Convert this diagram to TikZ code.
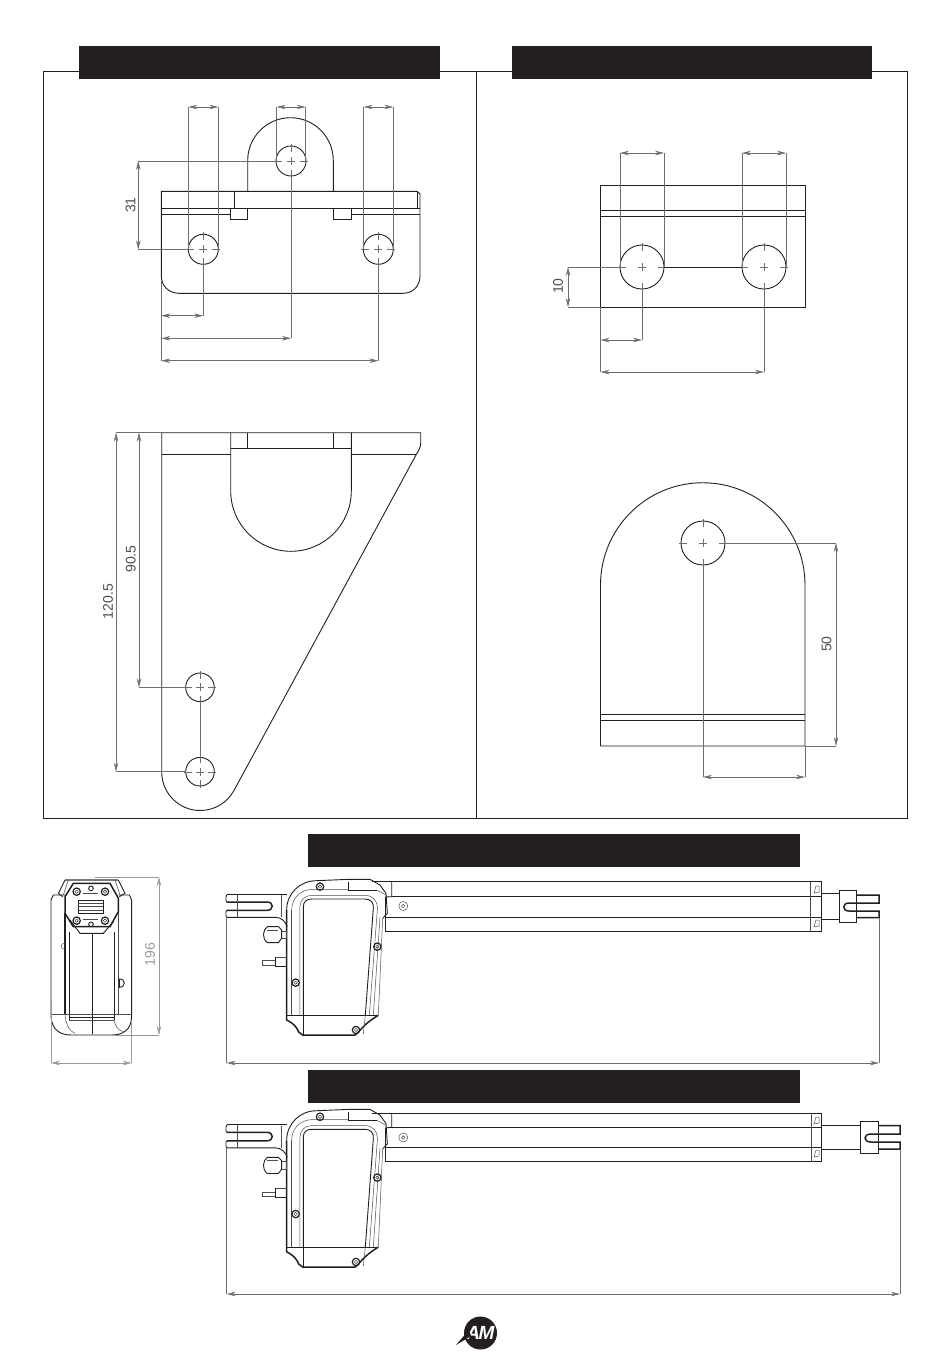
\documentclass[tikz,border=0pt]{standalone}
\usepackage{fontspec}
\setmainfont{Liberation Sans}
\usetikzlibrary{arrows.meta}
\tikzset{>={Stealth[length=9pt,width=4.5pt]}}
\definecolor{inkblack}{HTML}{231F20}
\definecolor{dimgray}{HTML}{6E6E6E}
% hole: x, y, radius
\newcommand{\holemark}[3]{
  \draw[outline] (#1,#2) circle (#3);
  \draw[mark_line] (#1-4,#2) -- (#1+4,#2);
  \draw[mark_line] (#1,#2-4) -- (#1,#2+4);
  \draw[mark_line] (#1-#3-2,#2) -- (#1-#3+6,#2);
  \draw[mark_line] (#1+#3-6,#2) -- (#1+#3+2,#2);
  \draw[mark_line] (#1,#2-#3-2) -- (#1,#2-#3+6);
  \draw[mark_line] (#1,#2+#3-6) -- (#1,#2+#3+2);
}
\newcommand{\screwmark}[2]{
  \draw[line width=1.2pt, inkblack] (#1,#2) circle (11);
  \draw[thin, inkblack] (#1,#2) circle (5);
}
% side view of the casing, in units of a third of a pixel
\newcommand{\actuatorbody}{
  \draw[outline] (591,194) -- (772,194);
  \draw[heavy] (591,216) -- (711,216) .. controls (732,216) and (732,241) .. (711,241) -- (591,241);
  \draw[outline] (591,194) -- (588,200) -- (588,212) -- (591,216);
  \draw[outline] (591,241) -- (588,245) -- (588,258) -- (591,262) -- (736,262) .. controls (755,262) and (766,275) .. (772,290);
  \draw[thin_part] (622,194) -- (622,262);
  \draw[thin_part] (755,196) -- (755,262);
  \draw[outline] (770,240) .. controls (770,190) and (810,152) .. (860,152) -- (955,148) -- (1020,148) -- (1050,165) -- (1068,190) -- (1072,250) -- (1058,265);
  \draw[heavy] (770,240) -- (770,570) .. controls (790,580) and (800,590) .. (806,606) -- (818,615) -- (975,615) .. controls (985,612) and (995,585) .. (1045,556);
  \draw[thin_part] (1058,265) -- (1045,556);
  \draw[thin_part] (1050,262) -- (1030,556);
  \draw[thin_part] (785,240) .. controls (785,205) and (810,178) .. (850,178) -- (955,178);
  \draw[thin_part] (785,240) -- (785,556);
  \draw[outline] (820,555) -- (820,230) .. controls (820,215) and (830,207) .. (845,207) -- (1005,207) .. controls (1022,207) and (1032,218) .. (1030,235) -- (1006,555);
  \draw[thin_part] (810,556) -- (810,230) .. controls (810,210) and (825,196) .. (845,196) -- (1005,196) .. controls (1030,196) and (1044,215) .. (1042,240) -- (1018,556);
  \draw[outline] (770,556) -- (1045,556);
  \draw[outline] (820,555) -- (820,615);
  \draw[thin_part] (1006,555) -- (1000,612);
  \draw[outline] (955,155) -- (955,180) -- (1040,180);
  \draw[thin_part] (1040,180) -- (1068,195);
  \screwmark{870}{170}
  \screwmark{1042}{350}
  \screwmark{797}{458}
  \screwmark{978}{600}
  % key and cable gland
  \draw[outline] (745,290) -- (712,290) .. controls (698,300) and (695,325) .. (712,338) -- (745,338) -- (755,325) -- (755,300) -- cycle;
  \draw[thin_part] (712,300) -- (745,300);
  \draw[thin_part] (755,303) -- (770,303) -- (770,325) -- (755,325);
  \draw[thin_part] (697,392) rectangle (737,405);
  \draw[outline] (737,382) -- (737,410) -- (770,410);
  \draw[thin_part] (737,382) -- (770,382);
}
\begin{document}
\begin{tikzpicture}[
    x = 1pt,
    y = -1pt,
    outline/.style = {line width = 0.9pt, inkblack},
    heavy/.style = {line width = 1.5pt, inkblack},
    thin_part/.style = {line width = 0.5pt, inkblack!80},
    dim/.style = {<->, line width = 0.6pt, dimgray},
    dim_light/.style = {<->, line width = 0.5pt, dimgray!70},
    ext/.style = {line width = 0.6pt, dimgray},
    ext_light/.style = {line width = 0.5pt, dimgray!70},
    mark_line/.style = {line width = 0.4pt, dimgray},
    header/.style = {fill = inkblack, inner sep = 0pt, minimum height = 33pt},
    size_label/.style = {rotate = 90, font = \fontsize{14}{14}\selectfont, text = inkblack!80, inner sep = 0pt}
  ]
    \useasboundingbox (0,0) rectangle (950,1357);

    % frames and title bars
    \draw[outline] (43,71) rectangle (907.5,818);
    \draw[outline] (476,71) -- (476,818);
    \node[header, minimum width = 361pt] (header_bracket) at (259.5,62.5) {};
    \node[header, minimum width = 360pt] (header_plate) at (692,62.5) {};
    \node[header, minimum width = 492pt] (header_short) at (554,850.5) {};
    \node[header, minimum width = 492pt] (header_long) at (554,1086.5) {};

    % bracket, top view
    \draw[outline] (161.3,191.3) -- (161.3,276) .. controls (161.3,287) and (170,293.3) .. (179,293.3) -- (403,293.3) .. controls (412,293.3) and (420,287) .. (420,276) -- (420,194) -- (417,191.3) -- cycle;
    \draw[outline] (247.7,191.3) -- (247.7,160.5) arc[start angle = 180, end angle = 360, radius = 42.8] -- (333.3,191.3);
    \draw[outline] (161.3,208.3) -- (420,208.3);
    \draw[outline] (234.3,191.3) -- (234.3,208.3);
    \draw[outline] (417.3,191.3) -- (417.3,208.3);
    \draw[outline] (161.3,214.3) -- (230.3,214.3);
    \draw[outline] (351.7,214.3) -- (420,214.3);
    \draw[outline] (230.3,208.3) rectangle (247.7,219.3);
    \draw[outline] (333.3,208.3) rectangle (351.7,219.3);
    \holemark{291}{161}{15}
    \holemark{203.3}{249.3}{15}
    \holemark{378.3}{249.3}{15}
    \draw[ext] (188.3,107) -- (188.3,249.3);
    \draw[ext] (218.3,107) -- (218.3,249.3);
    \draw[ext] (276.7,107) -- (276.7,161);
    \draw[ext] (305.7,107) -- (305.7,161);
    \draw[ext] (363.7,107) -- (363.7,249.3);
    \draw[ext] (393.3,107) -- (393.3,249.3);
    \draw[dim] (188.3,107) -- (218.3,107);
    \draw[dim] (276.7,107) -- (305.7,107);
    \draw[dim] (363.7,107) -- (393.3,107);
    \draw[ext] (138.3,161) -- (276,161);
    \draw[ext] (138.3,249.3) -- (188.3,249.3);
    \draw[dim] (138.3,161) -- (138.3,249.3);
    \node[size_label] (label_31) at (130.5,205) {31};
    \draw[ext] (161.3,280) -- (161.3,360.7);
    \draw[ext] (203.3,264.3) -- (203.3,315.7);
    \draw[ext] (291,176) -- (291,338.3);
    \draw[ext] (378.3,264.3) -- (378.3,360.7);
    \draw[dim] (161.3,315.7) -- (203.3,315.7);
    \draw[dim] (161.3,338.3) -- (291,338.3);
    \draw[dim] (161.3,360.7) -- (378.3,360.7);

    % bracket, side view
    \draw[outline] (161.7,432.7) -- (161.7,772) arc[start angle = 180, end angle = 29, radius = 38.5] -- (416,455) .. controls (419,450) and (420.7,447) .. (420.7,443) -- (420.7,432.7) -- cycle;
    \draw[outline] (161.7,454.3) -- (230.7,454.3);
    \draw[outline] (351.3,454.3) -- (416,454.3);
    \draw[outline] (230.7,432.7) -- (230.7,491) arc[start angle = 180, end angle = 0, radius = 60.3] -- (351.3,432.7);
    \draw[outline] (230.7,448.3) -- (351.3,448.3);
    \draw[outline] (247.3,432.7) -- (247.3,448.3);
    \draw[outline] (333.3,432.7) -- (333.3,448.3);
    \holemark{200}{687.3}{14.3}
    \holemark{200}{771.7}{14.3}
    \draw[ext] (200,701.6) -- (200,757.4);
    \draw[ext] (116,432.7) -- (161.7,432.7);
    \draw[ext] (139,687.3) -- (185.7,687.3);
    \draw[ext] (116,771.7) -- (185.7,771.7);
    \draw[dim] (139,432.7) -- (139,687.3);
    \draw[dim] (116,432.7) -- (116,771.7);
    \node[size_label] (label_90) at (130.7,559) {90.5};
    \node[size_label] (label_120) at (108,601.7) {120.5};

    % plate, top view
    \draw[outline] (600.5,185) rectangle (805,307);
    \draw[outline] (600.5,210) -- (805,210);
    \draw[outline] (600.5,216) -- (805,216);
    \holemark{642}{267}{22}
    \holemark{764}{267}{22}
    \draw[outline] (664,267) -- (742,267);
    \draw[ext] (620,153) -- (620,267);
    \draw[ext] (664,153) -- (664,267);
    \draw[ext] (742,153) -- (742,267);
    \draw[ext] (786,153) -- (786,267);
    \draw[dim] (620,153) -- (664,153);
    \draw[dim] (742,153) -- (786,153);
    \draw[ext] (568,267) -- (620,267);
    \draw[ext] (568,307) -- (600.5,307);
    \draw[dim] (568,267) -- (568,307);
    \node[size_label] (label_10) at (558,286) {10};
    \draw[ext] (600.5,307) -- (600.5,372);
    \draw[ext] (642,289) -- (642,340);
    \draw[ext] (764,289) -- (764,372);
    \draw[dim] (600.5,340) -- (642,340);
    \draw[dim] (600.5,372) -- (764,372);

    % plate, front view
    \draw[outline] (600.5,746) -- (600.5,585) arc[start angle = 180, end angle = 360, radius = 102.25] -- (805,746) -- cycle;
    \draw[outline] (600.5,714) -- (805,714);
    \draw[outline] (600.5,720) -- (805,720);
    \holemark{703}{543}{22}
    \draw[ext] (725,543) -- (836,543);
    \draw[ext] (805,746) -- (836,746);
    \draw[dim] (836,543) -- (836,746);
    \node[size_label] (label_50) at (826.5,644) {50};
    \draw[ext] (703,565) -- (703,777);
    \draw[ext] (805,746) -- (805,777);
    \draw[dim] (703,777) -- (805,777);

    % actuator, front view
    \begin{scope}[shift = {(30,830)}, scale = 1/3]
      \draw[outline] (105,195) -- (70,195) -- (63,210) -- (63,560) .. controls (66,600) and (90,615) .. (125,615) -- (245,615) .. controls (280,615) and (303,600) .. (305,560) -- (305,210) -- (298,195) -- (265,195);
      \draw[heavy] (105,250) -- (105,555);
      \draw[outline] (117,305) -- (117,570);
      \draw[outline] (252,305) -- (252,570);
      \draw[thin_part] (265,250) -- (265,555);
      \draw[outline] (187,310) -- (187,612);
      \draw[thin_part] (63,552) -- (305,552);
      \draw[outline] (117,562) -- (252,562);
      \draw[thin_part] (105,555) .. controls (108,585) and (120,605) .. (135,610);
      \draw[thin_part] (117,570) -- (252,570) ;
      \draw[thin_part] (252,560) .. controls (252,585) and (262,600) .. (280,605);
      \draw[heavy] (130,160) -- (240,160) -- (265,205) -- (265,245) -- (240,290) -- (130,290) -- (105,250) -- (105,200) -- cycle;
      \draw[outline] (120,270) -- (150,310) -- (220,310) -- (250,275);
      \draw[line width = 1.3pt, inkblack!60] (105,150) -- (265,150);
      \draw[outline] (105,150) -- (85,190) -- (98,200);
      \draw[outline] (265,150) -- (285,190) -- (268,200);
      \draw[thin_part] (115,150) -- (100,195);
      \draw[thin_part] (255,150) -- (270,195);
      \draw[outline] (145,210) rectangle (220,250);
      \draw[thin_part] (145,220) -- (220,220);
      \draw[thin_part] (145,230) -- (220,230);
      \draw[thin_part] (145,240) -- (220,240);
      \screwmark{140}{185}
      \screwmark{225}{185}
      \screwmark{140}{272}
      \screwmark{225}{272}
      \draw[outline] (183,175) circle (7);
      \draw[outline] (183,283) circle (7);
      \draw[thin_part] (160,190) -- (205,190);
      \draw[thin_part] (160,268) -- (205,268);
      \draw[thin_part] (105,340) .. controls (90,338) and (90,358) .. (105,358);
      \draw[outline] (268,447) .. controls (288,447) and (288,472) .. (268,472) -- cycle;
    \end{scope}
    \draw[ext_light] (95,877) -- (159,877);
    \draw[ext_light] (115,1035) -- (159,1035);
    \draw[dim_light] (159,877) -- (159,1035);
    \node[size_label, text = inkblack!45] (label_196) at (150,954.5) {196};
    \draw[ext_light] (51,1000) -- (51,1063);
    \draw[ext_light] (131.7,1020) -- (131.7,1063);
    \draw[dim_light] (51,1063) -- (131.7,1063);

    % actuator, closed
    \begin{scope}[shift = {(30,830)}, scale = 1/3]
      \actuatorbody
    \end{scope}
    \draw[outline] (372,881.7) -- (821.7,881.7);
    \draw[outline] (391.7,896.7) -- (821.7,896.7);
    \draw[outline] (385,917) -- (821.7,917);
    \draw[outline] (385,931.7) -- (821.7,931.7);
    \draw[outline] (391.7,881.7) -- (391.7,896.7) -- (385,897);
    \draw[outline] (385,897) -- (385,931.7);
    \draw[thin_part] (403.3,906) circle (4.5);
    \draw[thin_part] (403.3,906) circle (1.8);
    \draw[thin_part] (810.7,881.7) -- (810.7,931.7);
    \draw[heavy] (821.7,881.7) -- (821.7,931.7);
    \draw[thin_part] (814,893) -- (816,886) -- (819,886) -- (819,892) -- cycle;
    \draw[thin_part] (814,927) -- (816,920) -- (819,920) -- (819,926) -- cycle;
    \draw[outline] (821.7,893) -- (839,893);
    \draw[outline] (821.7,919) -- (839,919);
    \draw[outline] (839,890) rectangle (856,922);
    \draw[heavy] (856,895) -- (879,895) -- (879,903) -- (849,903) .. controls (842,903) and (842,911) .. (849,911) -- (879,911) -- (879,917.5) -- (856,917.5);
    \draw[ext] (226.7,918) -- (226.7,1063);
    \draw[ext] (879,917.5) -- (879,1063);
    \draw[dim] (226.7,1063) -- (879,1063);

    % actuator, open
    \begin{scope}[shift = {(30,1059.4)}, xscale = 1/3, yscale = 1.0129/3]
      \actuatorbody
    \end{scope}
    \draw[outline] (372,1113) -- (821.7,1113);
    \draw[outline] (391.7,1127.3) -- (821.7,1127.3);
    \draw[outline] (385,1147.3) -- (821.7,1147.3);
    \draw[outline] (385,1161.7) -- (821.7,1161.7);
    \draw[outline] (391.7,1113) -- (391.7,1127.3) -- (385,1128);
    \draw[outline] (385,1128) -- (385,1161.7);
    \draw[thin_part] (403.3,1137.5) circle (4.5);
    \draw[thin_part] (403.3,1137.5) circle (1.8);
    \draw[thin_part] (811.7,1113) -- (811.7,1161.7);
    \draw[heavy] (821.7,1113) -- (821.7,1161.7);
    \draw[thin_part] (814,1124) -- (816,1117) -- (819,1117) -- (819,1123) -- cycle;
    \draw[thin_part] (814,1157) -- (816,1150) -- (819,1150) -- (819,1156) -- cycle;
    \draw[outline] (821.7,1125) -- (860,1125);
    \draw[outline] (821.7,1149) -- (860,1149);
    \draw[outline] (860,1121.7) rectangle (878,1153.7);
    \draw[heavy] (878,1125.5) -- (900,1125.5) -- (900,1134) -- (871,1134) .. controls (863,1134) and (863,1142) .. (871,1142) -- (900,1142) -- (900,1149) -- (878,1149);
    \draw[ext] (226.7,1148) -- (226.7,1294);
    \draw[ext] (900,1149) -- (900,1294);
    \draw[dim] (226.7,1294) -- (900,1294);

    % logo
    \node[circle, fill = inkblack, minimum size = 33pt, inner sep = 0pt, text = white, font = \bfseries\itshape\fontsize{19}{19}\selectfont] (logo) at (480.5,1333) {A\kern-1.5pt M};
    \fill[inkblack] (456,1345) -- (469,1330) -- (471,1336) -- cycle;
  \end{tikzpicture}
\end{document}
